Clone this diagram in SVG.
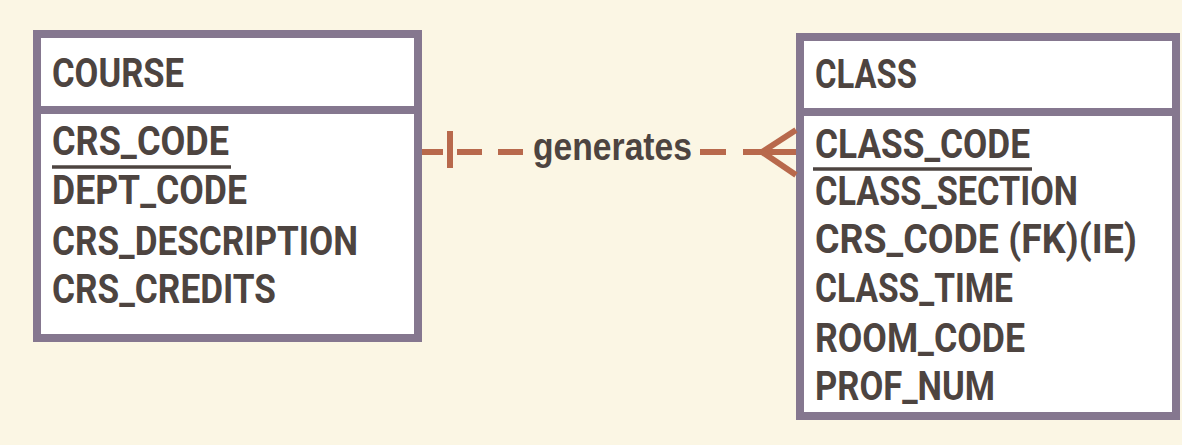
<svg xmlns="http://www.w3.org/2000/svg" width="1182" height="445" viewBox="0 0 1182 445">
<style>
.box{fill:#ffffff;stroke:#85778f;stroke-width:8}
.div{stroke:#85778f;stroke-width:8}
.t{font-family:Roboto,"Liberation Sans",Arial,sans-serif;font-weight:bold;font-size:40px;fill:#4d4440}
.ul{stroke:#4d4440;stroke-width:3.5}
.rel{stroke:#b8694c;stroke-width:6;fill:none}
.lbl{font-family:"Liberation Sans",Arial,sans-serif;font-weight:bold;font-size:38px;fill:#4d4440}
</style>
<rect width="1182" height="445" fill="#fbf6e4"/>
<g id="course">
<rect class="box" x="37" y="34" width="381" height="304"/>
<line class="div" x1="37" y1="110" x2="418" y2="110"/>
<text class="t" x="52" y="87" textLength="132" lengthAdjust="spacingAndGlyphs">COURSE</text>
<text class="t" x="52" y="155" textLength="177" lengthAdjust="spacingAndGlyphs">CRS_CODE</text>
<line class="ul" x1="52" y1="167" x2="231" y2="167"/>
<text class="t" x="52" y="204" textLength="195" lengthAdjust="spacingAndGlyphs">DEPT_CODE</text>
<text class="t" x="52" y="255" textLength="306" lengthAdjust="spacingAndGlyphs">CRS_DESCRIPTION</text>
<text class="t" x="52" y="303" textLength="224" lengthAdjust="spacingAndGlyphs">CRS_CREDITS</text>
</g>
<g id="class">
<rect class="box" x="800" y="37" width="376" height="379"/>
<line class="div" x1="800" y1="112" x2="1176" y2="112"/>
<text class="t" x="815" y="88" textLength="102" lengthAdjust="spacingAndGlyphs">CLASS</text>
<text class="t" x="815" y="158" textLength="215" lengthAdjust="spacingAndGlyphs">CLASS_CODE</text>
<line class="ul" x1="813" y1="169" x2="1032" y2="169"/>
<text class="t" x="815" y="205" textLength="263" lengthAdjust="spacingAndGlyphs">CLASS_SECTION</text>
<text class="t" x="815" y="253" textLength="322" lengthAdjust="spacingAndGlyphs">CRS_CODE (FK)(IE)</text>
<text class="t" x="815" y="302" textLength="198" lengthAdjust="spacingAndGlyphs">CLASS_TIME</text>
<text class="t" x="815" y="352" textLength="210" lengthAdjust="spacingAndGlyphs">ROOM_CODE</text>
<text class="t" x="815" y="400" textLength="180" lengthAdjust="spacingAndGlyphs">PROF_NUM</text>
</g>
<g id="connectors">
<line class="rel" x1="422" y1="152" x2="443" y2="152"/>
<line class="rel" x1="450" y1="131" x2="450" y2="168"/>
<line class="rel" x1="457" y1="152" x2="482" y2="152"/>
<line class="rel" x1="498" y1="152" x2="523" y2="152"/>
<line class="rel" x1="700" y1="152" x2="726" y2="152"/>
<line class="rel" x1="743" y1="152" x2="796" y2="152"/>
<line class="rel" x1="762" y1="152" x2="796" y2="130"/>
<line class="rel" x1="762" y1="152" x2="796" y2="175"/>
<text class="lbl" x="533" y="160" textLength="159" lengthAdjust="spacingAndGlyphs">generates</text>
</g>
</svg>
